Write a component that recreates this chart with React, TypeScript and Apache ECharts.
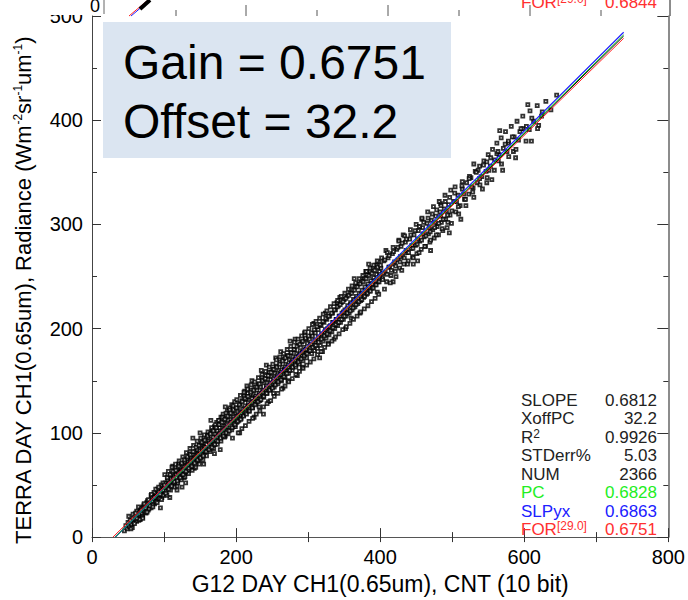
import React, { useEffect, useRef } from "react";
import * as echarts from "echarts";

// ---- data ----
const xTickLabels = [0, 200, 400, 600, 800];
const yTickLabels = [0, 100, 200, 300, 400, 500];

const scatterPoints: number[][] = [
  [45,6],[47,11],[49,8],[50,14],[52,10],[53,16],[55,12],[56,9],[57,18],[58,14],[60,17],[61,21],[62,15],[63,24],[64,19],[66,22],[67,17],[68,27],[69,23],[70,20],[71,29],[72,25],[74,28],[75,23],[76,33],[77,30],[78,26],[80,35],[81,31],[82,28],[83,38],[84,34],[86,37],[87,32],[88,42],[89,39],[90,35],[92,44],[93,40],[95,47],[96,42],[97,38],[98,49],[99,45],[100,41],
  [102,52],[103,44],[105,55],[106,47],[107,51],[108,58],[109,49],[110,56],[111,50],[112,61],[113,52],[114,58],[115,63],[116,54],[117,60],[118,49],[119,66],[120,62],[121,56],[122,58],[123,67],[124,63],[125,60],[126,70],[127,65],[128,57],[129,72],[130,68],[131,62],[132,75],[133,70],[134,64],[135,80],[136,73],[137,67],[138,77],[139,70],[140,79],[141,75],[142,66],[143,82],[144,78],[145,72],[146,84],[147,80],[148,74],[149,88],[150,83],[151,77],[152,90],[153,85],[154,79],[155,92],[156,87],[157,82],[158,95],[159,89],[160,84],[161,98],[162,92],[163,86],[164,100],[165,94],[166,88],[167,103],[168,96],[169,91],[170,106],[171,99],[172,93],[173,110],[174,102],[175,97],[176,112],[177,105],[178,100],[179,115],[180,108],[181,102],[182,118],[183,110],[184,104],[185,97],[186,114],[187,108],[188,121],[189,112],[190,105],[191,124],[192,116],[193,110],[194,127],[195,118],[196,112],[197,106],[198,130],[199,121],[200,116],
  [140,95],[155,70],[170,80],[185,125],[165,112],[195,95],[178,84],[150,100],[108,38],[118,45],[125,48],[130,52],[95,28],[120,70],[112,68],
  [201,110],[202,124],[203,117],[204,112],[205,128],[206,120],[207,114],[208,131],[209,123],[210,117],[211,135],[212,126],[213,119],[214,132],[215,124],[216,138],[217,129],[218,121],[219,134],[220,127],[221,141],[222,133],[223,124],[224,137],[225,130],[226,144],[227,135],[228,128],[229,141],[230,133],[231,147],[232,138],[233,131],[234,144],[235,137],[236,151],[237,141],[238,134],[239,148],[240,140],[241,155],[242,145],[243,138],[244,151],[245,143],[246,158],[247,148],[248,141],[249,154],[250,147],[251,161],[252,152],[253,144],[254,157],[255,150],[256,164],[257,155],[258,147],[259,160],[260,153],[261,168],[262,158],[263,150],[264,163],[265,156],[266,171],[267,161],[268,153],[269,166],[270,159],[271,174],[272,165],[273,157],[274,170],[275,162],[276,177],[277,168],[278,160],[279,173],[280,166],[281,180],[282,171],[283,163],[284,176],[285,169],[286,184],[287,174],[288,166],[289,179],[290,172],[291,187],[292,177],[293,169],[294,182],[295,175],[296,190],[297,180],[298,172],[299,186],[300,178],
  [205,100],[215,145],[225,115],[235,160],[245,130],[255,172],[265,143],[275,188],[285,155],[295,196],[212,140],[232,125],[252,138],[272,150],[292,163],[222,150],[242,165],[262,178],[282,190],[238,118],
  [302,190],[303,181],[305,176],[306,193],[307,184],[309,179],[310,196],[311,187],[313,181],[314,199],[315,190],[317,184],[318,203],[319,194],[321,188],[322,206],[323,197],[325,191],[326,209],[327,200],[329,194],[330,212],[331,203],[333,197],[334,215],[335,206],[337,200],[338,218],[339,209],[341,203],[342,222],[343,212],[345,206],[346,225],[347,215],[349,209],[350,228],[351,218],[353,212],[354,231],[355,222],[357,215],[358,234],[359,225],[361,218],[362,237],[363,228],[365,221],[366,240],[367,231],[369,224],[370,243],[371,234],[373,227],[374,246],[375,237],[377,230],[378,249],[379,240],[381,233],[382,252],[383,243],[385,236],[386,255],[387,246],[389,239],[390,258],[391,249],[393,242],[394,261],[395,252],[397,245],[398,264],[399,255],
  [308,205],[316,172],[324,215],[336,190],[344,230],[352,200],[364,248],[372,215],[384,262],[396,235],[320,178],[340,225],[360,210],[380,255],[328,186],
  [401,258],[403,249],[405,265],[407,254],[409,245],[411,268],[413,259],[415,251],[417,272],[419,262],[421,255],[423,276],[425,266],[427,258],[429,279],[431,270],[433,262],[435,283],[437,273],[439,265],[441,286],[443,277],[445,269],[447,290],[449,280],[451,272],[453,294],[455,284],[457,276],[459,297],[461,288],[463,279],[465,301],[467,291],[469,283],[471,304],[473,295],[475,287],[477,308],[479,298],[481,290],[483,312],[485,302],[487,294],[489,315],[491,305],[493,297],[495,319],[497,309],[499,301],
  [408,275],[418,245],[432,290],[446,262],[458,305],[470,275],[484,320],[496,292],[426,285],[452,265],
  [502,322],[505,312],[508,328],[511,318],[514,334],[517,324],[520,340],[523,329],[526,345],[529,335],[532,351],[535,340],[538,356],[541,346],[544,361],[547,351],[550,367],[553,356],[556,372],[559,362],[562,378],[565,367],[568,383],[571,373],[574,389],[578,378],[582,394],[586,384],[590,399],[594,389],[598,404],[603,394],[608,409],[613,399],[618,414],[624,404],[630,418],[637,410],[645,424],
  [512,305],[530,358],[548,340],[566,390],[585,370],[605,415],[620,395],
  [51,20],[54,8],[57,22],[59,13],[62,25],[65,16],[67,28],[70,19],[72,31],[75,24],[77,35],[79,27],[82,40],[84,31],[86,43],[89,34],[91,46],[94,37],[96,50],[99,40],
  [101,60],[104,40],[106,63],[109,45],[111,67],[114,48],[116,70],[119,52],[121,73],[124,55],[126,77],[129,58],[131,81],[134,61],[136,85],[139,64],[141,88],[144,67],[146,92],[149,70],[151,95],[154,74],[156,98],[159,78],[161,101],[164,82],[166,105],[169,85],[171,108],[174,89],[176,112],[179,92],[181,115],[184,96],[186,119],[189,99],[191,122],[194,103],[196,126],[199,106],
  [103,48],[107,52],[113,56],[117,57],[123,62],[127,64],[133,69],[137,72],[143,76],[147,79],[153,83],[157,86],[163,90],[167,92],[173,96],[177,99],[183,103],[187,106],[193,110],[197,113],
  [201,132],[203,100],[206,136],[208,104],[211,139],[213,107],[216,142],[218,111],[221,146],[223,114],[226,149],[228,118],[231,153],[233,121],[236,156],[238,125],[241,159],[243,128],[246,163],[248,131],[251,166],[253,135],[256,170],[258,138],[261,173],[263,142],[266,176],[268,145],[271,180],[273,149],[276,183],[278,152],[281,187],[283,156],[286,190],[288,159],[291,193],[293,162],[296,197],[298,165],
  [202,116],[207,119],[212,123],[217,126],[222,129],[227,133],[232,136],[237,139],[242,143],[247,146],[252,149],[257,153],[262,156],[267,160],[272,163],[277,167],[282,170],[287,173],[292,177],[297,180],
  [301,200],[303,168],[306,204],[308,171],[311,207],[313,175],[316,210],[318,178],[321,214],[323,182],[326,217],[328,185],[331,221],[333,188],[336,224],[338,192],[341,227],[343,195],[346,231],[348,199],[351,234],[353,202],[356,238],[358,205],[361,241],[363,209],[366,244],[368,212],[371,248],[373,216],[376,251],[378,219],[381,255],[383,222],[386,258],[388,226],[391,261],[393,229],[396,265],[398,233],
  [304,185],[309,189],[314,192],[319,195],[324,199],[329,202],[334,206],[339,209],[344,212],[349,216],[354,219],[359,223],[364,226],[369,229],[374,233],[379,236],[384,240],[389,243],[394,246],[399,250],
  [402,268],[406,238],[410,273],[414,244],[418,278],[422,250],[426,284],[430,256],[434,289],[438,262],[442,295],[446,268],[450,300],[454,273],[458,306],[462,279],[466,312],[470,285],[474,317],[478,290],[482,322],[486,296],[490,328],[494,302],[498,333],
  [404,253],[412,259],[420,264],[428,269],[436,275],[444,280],[452,286],[460,291],[468,297],[476,302],[484,308],[492,313],
  [504,336],[509,310],[514,341],[519,318],[524,346],[530,326],[536,352],[542,334],[548,360],[555,343],[562,368],[570,352],[578,380],[588,364],[598,392],[610,380],[625,408],
  [506,322],[516,329],[527,336],[538,344],[551,352],[564,361],[576,370],[592,381],[607,391],
  [60.5,23],[62.5,18],[64.5,29],[66.5,17],[68.5,26],[70.5,18],[72.5,32],[74.5,28],[76.5,24],[78.5,36],[80.5,30],[82.5,41],[84.5,29],[86.5,38],[88.5,46],[90.5,33],[92.5,48],[94.5,41],[96.5,36],[98.5,52],
  [100.5,50],[102.5,42],[104.5,57],[106.5,46],[108.5,60],[110.5,49],[112.5,63],[114.5,53],[116.5,64],[118.5,54],[120.5,68],[122.5,57],[124.5,71],[126.5,60],[128.5,74],[130.5,63],[132.5,77],[134.5,66],[136.5,79],[138.5,68],[140.5,82],[142.5,71],[144.5,86],[146.5,74],[148.5,88],[150.5,76],[152.5,91],[154.5,78],[156.5,93],[158.5,82],[160.5,97],[162.5,84],[164.5,99],[166.5,86],[168.5,102],[170.5,89],[172.5,105],[174.5,92],[176.5,108],[178.5,95],[180.5,110],[182.5,97],[184.5,113],[186.5,100],[188.5,116],[190.5,102],[192.5,119],[194.5,105],[196.5,122],[198.5,108],
  [200.5,124],[202.5,111],[204.5,127],[206.5,113],[208.5,130],[210.5,116],[212.5,133],[214.5,118],[216.5,135],[218.5,121],[220.5,139],[222.5,124],[224.5,141],[226.5,127],[228.5,144],[230.5,130],[232.5,147],[234.5,132],[236.5,150],[238.5,135],[240.5,152],[242.5,138],[244.5,155],[246.5,141],[248.5,158],[250.5,143],[252.5,161],[254.5,146],[256.5,163],[258.5,149],[260.5,166],[262.5,151],[264.5,169],[266.5,154],[268.5,172],[270.5,157],[272.5,174],[274.5,160],[276.5,177],[278.5,163],[280.5,180],[282.5,165],[284.5,183],[286.5,168],[288.5,185],[290.5,171],[292.5,188],[294.5,174],[296.5,191],[298.5,176],
  [300.5,193],[302.5,179],[304.5,196],[306.5,182],[308.5,199],[310.5,184],[312.5,202],[314.5,187],[316.5,204],[318.5,190],[320.5,207],[322.5,193],[324.5,210],[326.5,195],[328.5,212],[330.5,198],[332.5,215],[334.5,201],[336.5,218],[338.5,204],[340.5,221],[342.5,206],[344.5,223],[346.5,209],[348.5,226],[350.5,212],[352.5,229],[354.5,215],[356.5,232],[358.5,217],[360.5,234],[362.5,220],[364.5,237],[366.5,223],[368.5,240],[370.5,226],[372.5,243],[374.5,228],[376.5,245],[378.5,231],[380.5,248],[382.5,234],[384.5,251],[386.5,236],[388.5,253],[390.5,239],[392.5,256],[394.5,242],[396.5,259],[398.5,245],
  [400.5,261],[403.5,247],[406.5,266],[409.5,252],[412.5,270],[415.5,256],[418.5,274],[421.5,260],[424.5,278],[427.5,264],[430.5,282],[433.5,268],[436.5,286],[439.5,273],[442.5,290],[445.5,277],[448.5,294],[451.5,281],[454.5,298],[457.5,285],[460.5,302],[463.5,289],[466.5,306],[469.5,293],[472.5,310],[475.5,297],[478.5,314],[481.5,301],[484.5,318],[487.5,305],[490.5,322],[493.5,309],[496.5,326],[499.5,313],
  [503.5,330],[508.5,317],[513.5,337],[518.5,324],[523.5,344],[528.5,331],[533.5,350],[538.5,338],[543.5,357],[548.5,345],[553.5,364],[558.5,352],[563.5,370],[568.5,358],[573.5,377],[578.5,365],[583.5,384],[588.5,372],[595.5,392],[602.5,380],[610.5,402],[618.5,392]
];

// fit lines (end points in data units)
const slopeLine = [[32.2, 0], [738, 480.8]];
const pcLine = [[32.2, 0], [738, 481.9]];
const slpyxLine = [[32.2, 0], [738, 484.4]];
const forLine = [[29.0, 0], [738, 478.6]];

const statLabels = ["SLOPE", "XoffPC", "R2", "STDerr%", "NUM", "PC", "SLPyx", "FOR"];
const statValues = ["0.6812", "32.2", "0.9926", "5.03", "2366", "0.6828", "0.6863", "0.6751"];
const statColors = ["#222", "#222", "#222", "#222", "#222", "#22ee22", "#2020ff", "#ff3030"];

const gainText = "Gain = 0.6751";
const offsetText = "Offset = 32.2";

// remnants of the panel stacked above (its bottom edge shows at the top of the image)
const abovePanelMajorTicksPx = [246, 388, 530];
const abovePanelMinorTicksPx = [176, 317, 459, 601];

const FONT = "'Liberation Sans', Arial, Helvetica, sans-serif";

export default function App() {
  const ref = useRef<HTMLDivElement>(null);
  useEffect(() => {
    if (!ref.current) return;
    const chart = echarts.init(ref.current, undefined, { renderer: "svg" });

    const labelRich = (i: number) => {
      const lab = statLabels[i];
      if (lab === "R2") return "{b|R}{s|2}";
      if (lab === "FOR") return "{b|FOR}{s|[29.0]}";
      return "{b|" + lab + "}";
    };

    const richFor = (c: string) => ({
      b: { fontSize: 17, fontFamily: FONT, fill: c, color: c, lineHeight: 19 },
      s: { fontSize: 12, fontFamily: FONT, fill: c, color: c, verticalAlign: "top", lineHeight: 19 },
    });

    const statGraphics: any[] = [];
    statLabels.forEach((_, i) => {
      const y = 400 + i * 18.5;
      statGraphics.push({
        type: "text",
        x: 521,
        y,
        z: 100,
        style: {
          text: labelRich(i),
          fill: statColors[i],
          align: "left",
          verticalAlign: "middle",
          rich: richFor(statColors[i]),
        },
      });
      statGraphics.push({
        type: "text",
        x: 657,
        y,
        z: 100,
        style: {
          text: statValues[i],
          fill: statColors[i],
          fontSize: 17,
          fontFamily: FONT,
          align: "right",
          verticalAlign: "middle",
        },
      });
    });

    const remnantTicks: any[] = [];
    abovePanelMajorTicksPx.forEach((x) =>
      remnantTicks.push({ type: "line", shape: { x1: x, y1: 5, x2: x, y2: 16 }, style: { stroke: "#555", lineWidth: 1 }, z: 95 })
    );
    abovePanelMinorTicksPx.forEach((x) =>
      remnantTicks.push({ type: "line", shape: { x1: x, y1: 10, x2: x, y2: 16 }, style: { stroke: "#555", lineWidth: 1 }, z: 95 })
    );

    const option: any = {
      animation: false,
      backgroundColor: "#fff",
      grid: { left: 92, right: 18, top: 16, bottom: 54, containLabel: false },
      xAxis: [
        {
          type: "value",
          min: 0,
          max: 800,
          interval: 200,
          position: "bottom",
          name: "G12 DAY CH1(0.65um), CNT (10 bit)",
          nameLocation: "middle",
          nameGap: 30,
          nameTextStyle: { fontSize: 23, fontFamily: FONT, color: "#000" },
          axisLine: { show: true, onZero: false, lineStyle: { color: "#555", width: 1 } },
          axisTick: { show: true, inside: true, length: 9, lineStyle: { color: "#333" } },
          minorTick: { show: true, splitNumber: 2, length: 5, lineStyle: { color: "#333" } },
          axisLabel: {
            fontSize: 20,
            fontFamily: FONT,
            color: "#000",
            margin: 10,
            formatter: (v: number) => (xTickLabels.includes(v) ? String(v) : ""),
          },
          splitLine: { show: false },
        },
        {
          type: "value",
          min: 0,
          max: 800,
          interval: 100,
          position: "top",
          axisLine: { show: false },
          axisTick: { show: true, inside: true, length: 5, lineStyle: { color: "#333" } },
          axisLabel: { show: false },
          splitLine: { show: false },
        },
      ],
      yAxis: [
        {
          type: "value",
          min: 0,
          max: 500,
          interval: 100,
          position: "left",
          name: "TERRA DAY CH1(0.65um), Radiance (Wm{s|-2}sr{s|-1}um{s|-1})",
          nameLocation: "middle",
          nameGap: 58,
          nameTextStyle: {
            fontSize: 22,
            fontFamily: FONT,
            color: "#000",
            padding: [0, 28, 0, 0],
            rich: {
              s: { fontSize: 12, fontFamily: FONT, color: "#000", verticalAlign: "top" },
            },
          },
          axisLine: { show: true, onZero: false, lineStyle: { color: "#444", width: 1 } },
          axisTick: { show: true, inside: true, length: 9, lineStyle: { color: "#333" } },
          minorTick: { show: true, splitNumber: 2, length: 5, lineStyle: { color: "#333" } },
          axisLabel: {
            fontSize: 20,
            fontFamily: FONT,
            color: "#000",
            margin: 9,
            formatter: (v: number) => (yTickLabels.includes(v) ? String(v) : ""),
          },
          splitLine: { show: false },
        },
        {
          type: "value",
          min: 0,
          max: 500,
          interval: 100,
          position: "right",
          axisLine: { show: true, onZero: false, lineStyle: { color: "#666", width: 1.5 } },
          axisTick: { show: true, inside: true, length: 11, lineStyle: { color: "#333" } },
          minorTick: { show: true, splitNumber: 2, length: 5, lineStyle: { color: "#333" } },
          axisLabel: { show: false },
          splitLine: { show: false },
        },
      ],
      series: [
        {
          type: "scatter",
          data: scatterPoints,
          symbol: "rect",
          symbolSize: 3,
          itemStyle: { color: "#fff", borderColor: "#000", borderWidth: 1.8 },
          silent: true,
          large: false,
          z: 2,
        },
        {
          type: "line",
          data: slopeLine,
          showSymbol: false,
          lineStyle: { color: "#000", width: 1 },
          silent: true,
          z: 3,
        },
        {
          type: "line",
          data: slpyxLine,
          showSymbol: false,
          lineStyle: { color: "#2020ff", width: 1.2 },
          silent: true,
          z: 4,
        },
        {
          type: "line",
          data: pcLine,
          showSymbol: false,
          lineStyle: { color: "#10c010", width: 1 },
          silent: true,
          z: 5,
        },
        {
          type: "line",
          data: forLine,
          showSymbol: false,
          lineStyle: { color: "#ff2020", width: 1 },
          silent: true,
          z: 6,
        },
      ],
      graphic: [
        // the panel above overlaps the top strip of this one
        {
          type: "rect",
          shape: { x: 0, y: 0, width: 688, height: 15 },
          style: { fill: "#fff" },
          z: 90,
        },
        {
          type: "rect",
          shape: { x: 103, y: 22, width: 348, height: 136 },
          style: { fill: "#dbe5f1" },
          z: 50,
        },
        {
          type: "text",
          x: 123,
          y: 62,
          z: 51,
          style: { text: gainText, fontSize: 48, fontFamily: FONT, fill: "#000", align: "left", verticalAlign: "middle" },
        },
        {
          type: "text",
          x: 123,
          y: 121,
          z: 51,
          style: { text: offsetText, fontSize: 48, fontFamily: FONT, fill: "#000", align: "left", verticalAlign: "middle" },
        },
        {
          type: "text",
          x: 521,
          y: 2,
          z: 100,
          style: {
            text: "{b|FOR}{s|[29.0]}",
            align: "left",
            verticalAlign: "middle",
            rich: richFor("#ff3030"),
          },
        },
        {
          type: "text",
          x: 657,
          y: 2,
          z: 100,
          style: { text: "0.6844", fontSize: 17, fontFamily: FONT, fill: "#ff3030", align: "right", verticalAlign: "middle" },
        },
        { type: "line", shape: { x1: 670, y1: 0, x2: 670, y2: 16 }, style: { stroke: "#666", lineWidth: 1.5 }, z: 100 },
        { type: "line", shape: { x1: 104, y1: 0, x2: 104, y2: 14 }, style: { stroke: "#666", lineWidth: 1 }, z: 100 },
        { type: "line", shape: { x1: 129, y1: 16, x2: 148, y2: 0 }, style: { stroke: "#ff2020", lineWidth: 1 }, z: 100 },
        { type: "line", shape: { x1: 131, y1: 16, x2: 150, y2: 0 }, style: { stroke: "#2020ff", lineWidth: 1 }, z: 100 },
        { type: "line", shape: { x1: 140, y1: 9, x2: 150, y2: 0 }, style: { stroke: "#000", lineWidth: 4 }, z: 100 },
        {
          type: "text",
          x: 95,
          y: 6,
          z: 100,
          style: { text: "0", fontSize: 18, fontFamily: FONT, fill: "#000", align: "center", verticalAlign: "middle" },
        },
        ...remnantTicks,
        ...statGraphics,
      ],
    };

    chart.setOption(option);
    return () => chart.dispose();
  }, []);

  return (
    <div
      ref={ref}
      style={{ position: "fixed", left: 0, top: 0, width: 688, height: 600, background: "#fff" }}
    />
  );
}
